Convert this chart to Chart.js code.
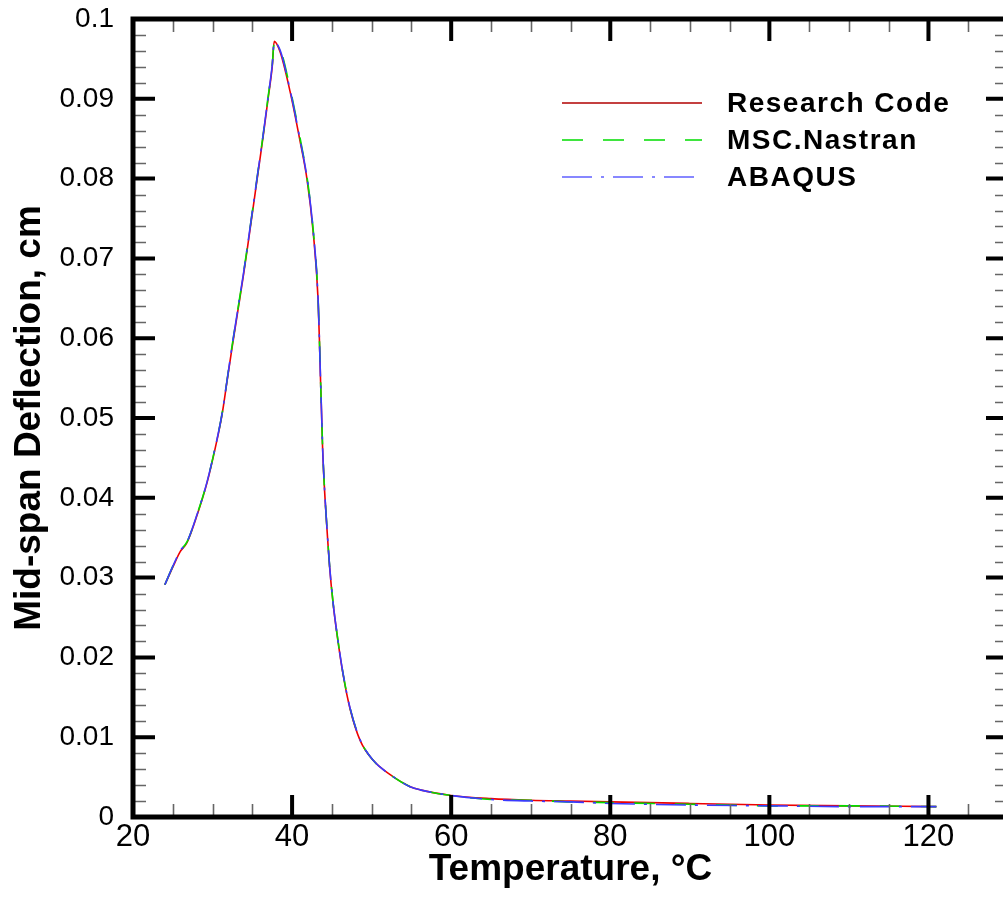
<!DOCTYPE html>
<html>
<head>
<meta charset="utf-8">
<script src="https://cdn.jsdelivr.net/npm/chart.js@4.4.1/dist/chart.umd.min.js"></script>
<style>
  html, body { margin: 0; padding: 0; background: #fff; overflow: hidden; width: 1003px; height: 898px; }
  canvas { display: block; }
</style>
</head>
<body>
<canvas id="c" width="1012" height="898"></canvas>
<script>
// ---- Data ----
const temperature = [24.0, 25.0, 25.9, 26.8, 28.05, 29.31, 30.31, 31.19, 31.82, 32.45, 33.21, 33.9, 34.4, 35.05, 35.7, 36.35, 36.98, 37.5, 37.75, 38.49, 39.75, 41.0, 41.89, 42.64, 43.27, 43.46, 43.58, 43.71, 43.84, 44.03, 44.34, 44.72, 45.16, 45.66, 46.42, 47.3, 48.55, 50.19, 52.33, 54.84, 56.1, 60, 65, 70, 75, 80, 90, 100, 110, 121];
const researchCode = [0.0291, 0.0313, 0.0332, 0.0344, 0.0378, 0.0419, 0.0461, 0.0504, 0.0546, 0.0588, 0.0636, 0.0680, 0.0714, 0.0760, 0.0806, 0.0852, 0.0900, 0.0940, 0.0972, 0.0959, 0.0909, 0.0847, 0.0798, 0.0734, 0.0648, 0.0589, 0.0546, 0.0504, 0.0461, 0.0419, 0.0368, 0.0313, 0.0267, 0.0228, 0.0178, 0.0135, 0.0096, 0.0071, 0.0053, 0.0038, 0.0034, 0.0027, 0.0023, 0.0021, 0.0020, 0.0019, 0.0017, 0.0015, 0.0014, 0.0013];
const mscNastran = [0.0291, 0.0314, 0.0333, 0.0345, 0.0379, 0.0420, 0.0462, 0.0505, 0.0547, 0.0590, 0.0638, 0.0682, 0.0716, 0.0762, 0.0808, 0.0854, 0.0902, 0.0942, 0.0970, 0.0963, 0.0913, 0.0851, 0.0801, 0.0737, 0.0650, 0.0590, 0.0547, 0.0505, 0.0462, 0.0420, 0.0369, 0.0314, 0.0268, 0.0229, 0.0179, 0.0136, 0.0097, 0.0071, 0.0053, 0.0038, 0.0034, 0.0027, 0.0022, 0.0021, 0.0019, 0.0018, 0.0016, 0.0014, 0.0014, 0.0013];
const abaqus = [0.0291, 0.0314, 0.0333, 0.0345, 0.0379, 0.0420, 0.0462, 0.0505, 0.0547, 0.0590, 0.0638, 0.0682, 0.0716, 0.0762, 0.0808, 0.0854, 0.0902, 0.0942, 0.0971, 0.0961, 0.0911, 0.0849, 0.0800, 0.0736, 0.0649, 0.0590, 0.0547, 0.0505, 0.0462, 0.0420, 0.0369, 0.0314, 0.0268, 0.0229, 0.0179, 0.0136, 0.0097, 0.0071, 0.0053, 0.0038, 0.0034, 0.0027, 0.0022, 0.0020, 0.0019, 0.0017, 0.0015, 0.0014, 0.0013, 0.0013];
const seriesNames = ["Research Code", "MSC.Nastran", "ABAQUS"];
const xMajorTicks = [20, 40, 60, 80, 100, 120];
const yMajorTicks = [0, 0.01, 0.02, 0.03, 0.04, 0.05, 0.06, 0.07, 0.08, 0.09, 0.1];
const xTitle = "Temperature, \u00B0C";
const yTitle = "Mid-span Deflection, cm";

const FONT = "'Liberation Sans', Arial, Helvetica, sans-serif";
const toPts = (ys) => temperature.map((t, i) => ({ x: t, y: ys[i] }));

const framePlugin = {
  id: 'frame',
  afterDraw(chart) {
    const { ctx, chartArea: a, scales: { x, y } } = chart;
    ctx.save();
    ctx.lineCap = 'butt';
    // minor ticks
    ctx.strokeStyle = '#666';
    ctx.lineWidth = 1.6;
    const minorLen = 13, majorLen = 22;
    for (let v = 20; v <= 130 + 1e-9; v += 5) {
      if (Math.abs(v % 20) < 1e-9) continue;
      const px = Math.round(x.getPixelForValue(v)) + 0.5;
      ctx.beginPath();
      ctx.moveTo(px, a.bottom); ctx.lineTo(px, a.bottom - minorLen);
      ctx.moveTo(px, a.top); ctx.lineTo(px, a.top + minorLen);
      ctx.stroke();
    }
    for (let k = 0; k <= 50; k++) {
      if (k % 5 === 0) continue;
      const py = Math.round(y.getPixelForValue(k * 0.002)) + 0.5;
      ctx.beginPath();
      ctx.moveTo(a.left, py); ctx.lineTo(a.left + minorLen, py);
      ctx.moveTo(a.right, py); ctx.lineTo(a.right - minorLen, py);
      ctx.stroke();
    }
    // major ticks
    ctx.strokeStyle = '#000';
    ctx.lineWidth = 4;
    xMajorTicks.forEach(v => {
      const px = x.getPixelForValue(v);
      ctx.beginPath();
      ctx.moveTo(px, a.bottom); ctx.lineTo(px, a.bottom - majorLen);
      ctx.moveTo(px, a.top); ctx.lineTo(px, a.top + majorLen);
      ctx.stroke();
    });
    yMajorTicks.forEach(v => {
      const py = y.getPixelForValue(v);
      ctx.beginPath();
      ctx.moveTo(a.left, py); ctx.lineTo(a.left + majorLen, py);
      ctx.moveTo(a.right, py); ctx.lineTo(a.right - majorLen, py);
      ctx.stroke();
    });
    // frame
    ctx.lineWidth = 5;
    ctx.lineJoin = 'miter';
    ctx.strokeRect(a.left, a.top, a.right - a.left, a.bottom - a.top);

    // legend
    const lx0 = 562, lx1 = 702, tx = 727, ly = [103, 140, 177];
    chart.data.datasets.forEach((ds, i) => {
      ctx.strokeStyle = ds.legendColor || ds.borderColor;
      ctx.lineWidth = 1.6;
      ctx.setLineDash(ds.borderDash || []);
      ctx.beginPath();
      ctx.moveTo(lx0, ly[i]); ctx.lineTo(lx1, ly[i]);
      ctx.stroke();
      ctx.setLineDash([]);
      ctx.fillStyle = '#000';
      ctx.font = 'bold 28px ' + FONT;
      try { ctx.letterSpacing = '1.5px'; } catch (e) {}
      ctx.textAlign = 'left';
      ctx.textBaseline = 'middle';
      ctx.fillText(ds.label, tx, ly[i] + 1);
      try { ctx.letterSpacing = '0px'; } catch (e) {}
    });
    ctx.restore();
  }
};

const fmtY = (v) => {
  const r = Math.round(v * 1000) / 1000;
  return r === 0 ? '0' : String(r);
};

new Chart(document.getElementById('c'), {
  type: 'line',
  data: {
    datasets: [
      { label: seriesNames[0], data: toPts(researchCode), borderColor: '#ee0000', legendColor: '#b00000', borderWidth: 1.6, pointRadius: 0, cubicInterpolationMode: 'monotone', order: 3 },
      { label: seriesNames[1], data: toPts(mscNastran), borderColor: '#00dd00', borderDash: [21, 20], borderWidth: 1.6, pointRadius: 0, cubicInterpolationMode: 'monotone', order: 2 },
      { label: seriesNames[2], data: toPts(abaqus), borderColor: '#3a3aff', legendColor: '#6060ff', borderDash: [30, 9, 3, 9], borderWidth: 1.6, pointRadius: 0, cubicInterpolationMode: 'monotone', order: 1 }
    ]
  },
  options: {
    responsive: false,
    animation: false,
    devicePixelRatio: 1,
    layout: { padding: { top: 19, right: 4, left: 0, bottom: 0 } },
    plugins: { legend: { display: false }, tooltip: { enabled: false } },
    scales: {
      x: {
        type: 'linear', min: 20, max: 130,
        afterFit: (s) => { s.height = 81; s.paddingLeft = 0; s.paddingRight = 0; },
        grid: { drawOnChartArea: false, drawTicks: false },
        border: { display: false },
        ticks: {
          stepSize: 20, includeBounds: false, autoSkip: false, maxRotation: 0,
          padding: 2, color: '#000', font: { family: FONT, size: 31 },
          callback: (v) => (xMajorTicks.includes(v) ? String(v) : '')
        },
        title: { display: true, text: xTitle, color: '#000', font: { family: FONT, size: 37, weight: 'bold' }, padding: { top: 0, bottom: 6 } }
      },
      y: {
        type: 'linear', min: 0, max: 0.1,
        afterFit: (s) => { s.width = 133; s.paddingTop = 0; s.paddingBottom = 0; },
        grid: { drawOnChartArea: false, drawTicks: false },
        border: { display: false },
        ticks: {
          stepSize: 0.01, autoSkip: false, padding: 19, color: '#000',
          font: { family: FONT, size: 28 },
          callback: fmtY
        },
        title: { display: true, text: yTitle, color: '#000', font: { family: FONT, size: 37, weight: 'bold' }, padding: { top: 8, bottom: 0 } }
      }
    }
  },
  plugins: [framePlugin]
});
</script>
</body>
</html>
